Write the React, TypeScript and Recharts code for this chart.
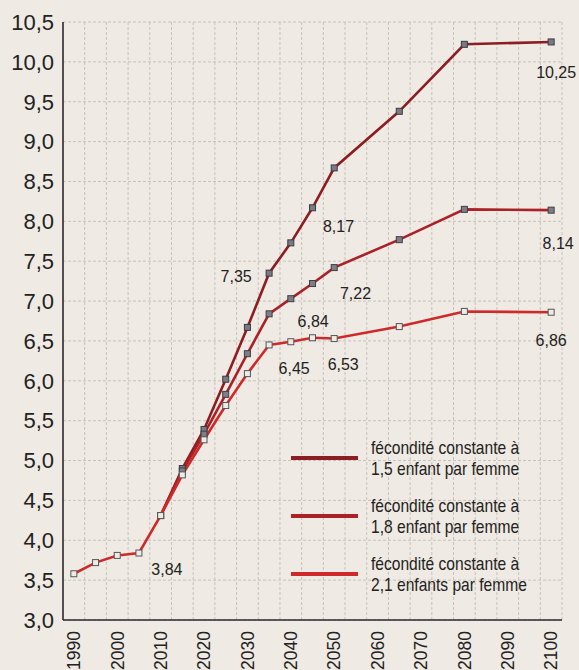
import { LineChart, Line, XAxis, YAxis, CartesianGrid, Legend, LabelList } from "recharts";

// projections (years on x, values on y)
const years = [1990, 1995, 2000, 2005, 2010, 2015, 2020, 2025, 2030, 2035, 2040, 2045, 2050, 2065, 2080, 2100];
const fec15 = [null, null, null, null, 4.31, 4.9, 5.39, 6.02, 6.67, 7.35, 7.73, 8.17, 8.67, 9.38, 10.22, 10.25];
const fec18 = [null, null, null, null, 4.31, 4.87, 5.33, 5.83, 6.34, 6.84, 7.03, 7.22, 7.42, 7.77, 8.15, 8.14];
const fec21 = [3.58, 3.72, 3.81, 3.84, 4.31, 4.82, 5.26, 5.69, 6.09, 6.45, 6.49, 6.54, 6.53, 6.68, 6.87, 6.86];

const xTicks = [1990, 2000, 2010, 2020, 2030, 2040, 2050, 2060, 2070, 2080, 2090, 2100];
const yTicks = [3, 3.5, 4, 4.5, 5, 5.5, 6, 6.5, 7, 7.5, 8, 8.5, 9, 9.5, 10, 10.5];
const gridYears = [1992.5, 1997.5, 2002.5, 2007.5, 2012.5, 2017.5, 2022.5, 2027.5, 2032.5, 2037.5, 2042.5, 2047.5, 2052.5, 2057.5, 2062.5, 2067.5, 2072.5, 2077.5, 2082.5, 2087.5, 2092.5, 2097.5, 2102.5];

const seriesNames = {
  fec15: ["fécondité constante à", "1,5 enfant par femme"],
  fec18: ["fécondité constante à", "1,8 enfant par femme"],
  fec21: ["fécondité constante à", "2,1 enfants par femme"],
};
const labeledYears = {
  fec15: [2035, 2045, 2100],
  fec18: [2035, 2045, 2100],
  fec21: [2005, 2035, 2050, 2100],
};

const data = years.map((year, i) => ({ year, fec15: fec15[i], fec18: fec18[i], fec21: fec21[i] }));

const X_MIN = 1987.5;
const X_MAX = 2102.5;

const FONT = "'Liberation Sans', Arial, Helvetica, sans-serif";

const colors: any = { fec15: "#8c1d22", fec18: "#ab2128", fec21: "#cf2a2a" };

// where each value label sits relative to its point
const labelOffsets: any = {
  "fec15-2035": [-33, 3],
  "fec15-2045": [26, 19],
  "fec15-2100": [5, 31],
  "fec18-2035": [44, 8],
  "fec18-2045": [43, 10],
  "fec18-2100": [7, 33],
  "fec21-2005": [28, 16],
  "fec21-2035": [25, 24],
  "fec21-2050": [9, 26],
  "fec21-2100": [0, 28],
};

const fmt = (v: number, d: number) => v.toFixed(d).replace(".", ",");

const squareDot = (fill: string, stroke: string) => (p: any) => {
  if (p.cx == null || p.cy == null || p.value == null) return <g key={p.index} />;
  return (
    <rect key={p.index} x={p.cx - 3} y={p.cy - 3} width={6} height={6} fill={fill} stroke={stroke} strokeWidth={1} />
  );
};

const valueLabel = (key: string) => (p: any) => {
  const year = years[p.index];
  if (!(labeledYears as any)[key].includes(year) || p.value == null) return null;
  const [dx, dy] = labelOffsets[`${key}-${year}`];
  return (
    <text
      key={`${key}-${year}`}
      x={p.x + dx}
      y={p.y + dy}
      textAnchor="middle"
      dominantBaseline="central"
      fontSize={16}
      fontFamily={FONT}
      fill="#222"
    >
      {fmt(p.value, 2)}
    </text>
  );
};

const XTick = ({ x, y, payload }: any) => (
  <text
    x={x}
    y={y}
    transform={`rotate(-90 ${x} ${y})`}
    textAnchor="end"
    dy="0.36em"
    fontSize={17.5}
    fontFamily={FONT}
    fill="#222"
  >
    {payload.value}
  </text>
);

const LegendBox = () => (
  <div style={styles.legend}>
    {(["fec15", "fec18", "fec21"] as const).map((k) => (
      <div key={k} style={styles.legendRow}>
        <div style={{ ...styles.legendBar, background: colors[k] }} />
        <div style={styles.legendText}>
          {seriesNames[k][0]}
          <br />
          {seriesNames[k][1]}
        </div>
      </div>
    ))}
  </div>
);

export default function App() {
  return (
    <div style={styles.page}>
      <LineChart width={579} height={670} data={data} margin={{ top: 22, right: 17, bottom: 0, left: 3 }}>
        <CartesianGrid
          stroke="#c6c2bb"
          strokeDasharray="3 2"
          verticalCoordinatesGenerator={({ xAxis, offset }: any) =>
            gridYears.map((g) =>
              xAxis && typeof xAxis.scale === "function"
                ? xAxis.scale(g)
                : offset.left + ((g - X_MIN) / (X_MAX - X_MIN)) * offset.width
            )
          }
        />
        <XAxis
          dataKey="year"
          type="number"
          domain={[X_MIN, X_MAX]}
          ticks={xTicks}
          interval={0}
          height={50}
          tickSize={0}
          tickMargin={11}
          tick={<XTick />}
          axisLine={{ stroke: "#2b2830", strokeWidth: 1.6 }}
          allowDataOverflow
        />
        <YAxis
          domain={[3, 10.5]}
          ticks={yTicks}
          interval={0}
          width={60}
          tickSize={0}
          tickMargin={9}
          tickFormatter={(v: number) => fmt(v, 1)}
          tick={{ fontSize: 22, fill: "#222", fontFamily: FONT }}
          axisLine={{ stroke: "#2b2830", strokeWidth: 1.6 }}
          allowDataOverflow
        />
        <Legend
          layout="vertical"
          align="center"
          verticalAlign="middle"
          wrapperStyle={{ left: 291, top: 429, width: 270 }}
          content={<LegendBox />}
        />
        <Line
          dataKey="fec15"
          stroke={colors.fec15}
          strokeWidth={2.6}
          dot={squareDot("#7b7a82", "#3a3a42")}
          isAnimationActive={false}
        >
          <LabelList dataKey="fec15" content={valueLabel("fec15")} />
        </Line>
        <Line
          dataKey="fec18"
          stroke={colors.fec18}
          strokeWidth={2.6}
          dot={squareDot("#7f7e86", "#3f3f47")}
          isAnimationActive={false}
        >
          <LabelList dataKey="fec18" content={valueLabel("fec18")} />
        </Line>
        <Line
          dataKey="fec21"
          stroke={colors.fec21}
          strokeWidth={2.6}
          dot={squareDot("#ecebe4", "#55555a")}
          isAnimationActive={false}
        >
          <LabelList dataKey="fec21" content={valueLabel("fec21")} />
        </Line>
      </LineChart>
    </div>
  );
}

const styles: any = {
  page: {
    position: "absolute",
    left: 0,
    top: 0,
    width: 579,
    height: 670,
    overflow: "hidden",
    background: "#efeae3",
  },
  legend: {
    display: "flex",
    flexDirection: "column",
  },
  legendRow: {
    display: "flex",
    alignItems: "center",
    height: 58,
  },
  legendBar: {
    width: 67,
    minWidth: 67,
    flexShrink: 0,
    height: 4.5,
    marginRight: 13,
  },
  legendText: {
    fontFamily: FONT,
    fontSize: 19,
    lineHeight: "21px",
    color: "#222",
    whiteSpace: "nowrap",
    transform: "scaleX(0.82)",
    transformOrigin: "left center",
  },
};
